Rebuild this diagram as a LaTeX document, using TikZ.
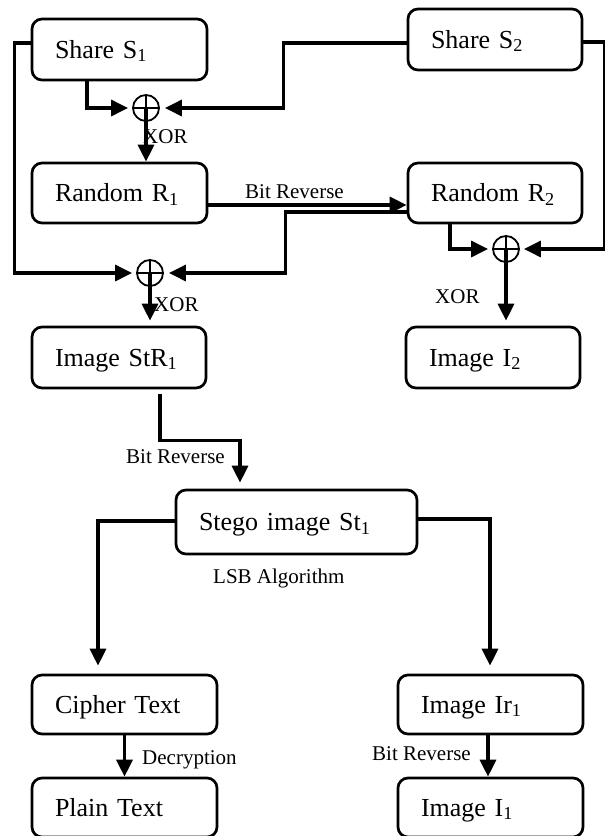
\documentclass[tikz,border=0pt]{standalone}
\usepackage{fontspec}
\setmainfont{Liberation Serif}
\usetikzlibrary{arrows.meta,calc}

\begin{document}
\begin{tikzpicture}[x=1pt,y=-1pt,
  box/.style={draw, line width=2.7pt, rounded corners=10pt, inner xsep=23pt,
    inner ysep=0pt, align=left, text height=17pt, text depth=0pt,
    font=\fontsize{26}{30}\selectfont},
  xorgate/.style={circle, draw, line width=1.8pt, minimum size=26pt, inner sep=0pt,
    path picture={\draw[line width=1.8pt]
      (path picture bounding box.north) -- (path picture bounding box.south)
      (path picture bounding box.west) -- (path picture bounding box.east);}},
  conn/.style={line width=3.2pt},
  arr/.style={conn, -{Triangle[length=17pt,width=16pt]}},
  lbl/.style={anchor=base west, inner sep=0pt, font=\fontsize{21}{24}\selectfont}]

\useasboundingbox (0,0) rectangle (605,836);

% process boxes
\node[box, text width=129pt, minimum height=61pt] (s1) at (119.5,49.5) {Share S\textsubscript{1}};
\node[box, text width=128pt, minimum height=61pt] (s2) at (495,39.5) {Share S\textsubscript{2}};
\node[box, text width=129pt, minimum height=60pt] (r1) at (119.5,193) {Random R\textsubscript{1}};
\node[box, text width=128pt, minimum height=60pt] (r2) at (495,193) {Random R\textsubscript{2}};
\node[box, text width=128pt, minimum height=61pt] (str1) at (119,357.5) {Image StR\textsubscript{1}};
\node[box, text width=128pt, minimum height=61pt] (i2) at (493,357.5) {Image I\textsubscript{2}};
\node[box, text width=195pt, minimum height=64pt] (stego) at (296.5,522) {Stego image St\textsubscript{1}};
\node[box, text width=139pt, minimum height=59pt] (cipher) at (124.5,704.5) {Cipher Text};
\node[box, text width=139pt, minimum height=59pt] (plain) at (124.5,807.5) {Plain Text};
\node[box, text width=139pt, minimum height=59pt] (ir1) at (490.5,704.5) {Image Ir\textsubscript{1}};
\node[box, text width=139pt, minimum height=59pt] (i1) at (490.5,807.5) {Image I\textsubscript{1}};

% XOR gates
\node[xorgate] (x1) at (146,108) {};
\node[xorgate] (x2) at (150,273) {};
\node[xorgate] (x3) at (506,249) {};

% connectors
\draw[arr, shorten >=4pt] ([yshift=6.5pt]s1.west) -- ++(-16,0) |- (x2.west);
\draw[arr, shorten >=4pt] ([xshift=-32.5pt]s1.south) |- (x1.west);
\draw[arr, shorten >=5pt] ([yshift=-3.5pt]s2.west) -- ++(-123,0) |- (x1.east);
\draw[arr] (x1.center) -- (x1.center |- r1.north);
\draw[arr] ([yshift=-12pt]r1.east) -- ([yshift=-12pt]r1.east -| r2.west);
\draw[arr, shorten >=5pt] ([yshift=-19pt]r2.west) -- ++(-121,0) |- (x2.east);
\draw[arr, shorten >=4pt] ([xshift=-45pt]r2.south) |- (x3.west);
\draw[arr, shorten >=4pt] ([yshift=-2.5pt]s2.east) -- ++(21,0) |- (x3.east);
\draw[arr, shorten >=5pt] (x2.center) -- (x2.center |- str1.north);
\draw[arr, shorten >=5pt] (x3.center) -- (x3.center |- i2.north);
\draw[arr, shorten >=6pt] ([xshift=41pt,yshift=-5pt]str1.south) -- ++(0,46) -| ([xshift=-56.5pt]stego.north);
\draw[arr, shorten >=8pt] ([yshift=1pt]stego.west) -| ([xshift=-26.5pt]cipher.north);
\draw[arr, shorten >=8pt] ([yshift=3pt]stego.east) -| ([xshift=-0.5pt]ir1.north);
\draw[arr] (cipher.south) -- (plain.north);
\draw[arr] ([xshift=-2.5pt]ir1.south) -- ([xshift=-2.5pt]i1.north);

% connector labels
\node[lbl] (l1) at (143,143) {XOR};
\node[lbl] (l2) at (245,198) {Bit Reverse};
\node[lbl] (l3) at (154,311) {XOR};
\node[lbl] (l4) at (435,303) {XOR};
\node[lbl] (l5) at (126,463) {Bit Reverse};
\node[lbl] (l6) at (213,583) {LSB Algorithm};
\node[lbl] (l7) at (142,764) {Decryption};
\node[lbl] (l8) at (372,760) {Bit Reverse};
\end{tikzpicture}
\end{document}
